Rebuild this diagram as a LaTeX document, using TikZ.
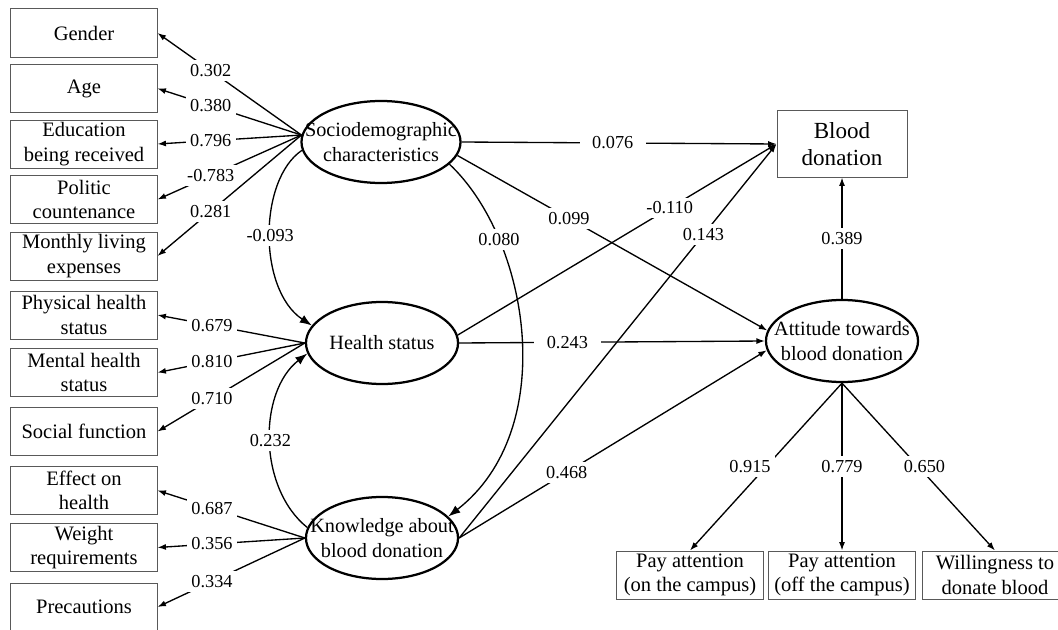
\documentclass[tikz,border=0pt]{standalone}
\usepackage{fontspec}
\setmainfont{Liberation Serif}
\usetikzlibrary{arrows.meta, calc, positioning, shapes.geometric}
\tikzset{
  obs/.style    = {draw=black!65, line width=0.7pt, minimum width=3.65cm, minimum height=1.2cm,
                   inner sep=0pt, align=center, font=\fontsize{14.6}{17.4}\selectfont},
  latent/.style = {ellipse, draw, line width=1.6pt, minimum width=3.8cm, minimum height=2.05cm,
                   inner xsep=-14pt, inner ysep=0pt, align=center, font=\fontsize{14.4}{17.4}\selectfont},
  load/.style   = {-{Latex[length=2.1mm, width=1.5mm]}, line width=0.95pt},
  covar/.style  = {-{Latex[length=3mm, width=2.2mm]}, line width=0.95pt},
  lbl/.style    = {fill=white, inner xsep=3pt, inner ysep=3pt, font=\fontsize{13}{14}\selectfont},
}

\begin{document}
\begin{tikzpicture}[x=0.025cm, y=-0.025cm]
  \useasboundingbox (0,0) rectangle (1058,630);
  \clip (0,0) rectangle (1058,630);

  \node[obs] (gender)  at (84,33)    {Gender};
  \node[obs] (age)     at (84,88.5)  {Age};
  \node[obs] (edu)     at (84,144)   {Education\\being received};
  \node[obs] (politic) at (84,199.5) {Politic\\countenance};
  \node[obs] (expense) at (84,256)   {Monthly living\\expenses};
  \node[obs] (phys)    at (84,315)   {Physical health\\status};
  \node[obs] (mental)  at (84,372.5) {Mental health\\status};
  \node[obs] (social)  at (84,431.5) {Social function};
  \node[obs] (effect)  at (84,490.5) {Effect on\\health};
  \node[obs] (weight)  at (84,547.5) {Weight\\requirements};
  \node[obs] (precau)  at (84,607)   {Precautions};

  \node[latent] (socio)  at (381,142) {Sociodemographic\\characteristics};
  \node[latent] (health) at (382,343) {Health status};
  \node[latent] (know)   at (382,538) {Knowledge about\\blood donation};
  \node[latent] (attit)  at (842,341) {Attitude towards\\blood donation};

  \node[obs, minimum width=3.25cm, minimum height=1.65cm, font=\fontsize{16.4}{19}\selectfont]
    (blood) at (842,144) {Blood\\donation};
  \node[obs] (oncamp)  at (690,575) {Pay attention\\(on the campus)};
  \node[obs] (offcamp) at (842,575) {Pay attention\\(off the campus)};
  \node[obs] (willing) at (995,575) {Willingness to\\donate blood};

  % loadings
  \draw[load] (socio.175) -- node[lbl, pos=0.63] {0.302} (gender.east);
  \draw[load] (socio.175) -- node[lbl, pos=0.63] {0.380} (age.east);
  \draw[load] (socio.175) -- node[lbl, pos=0.63] {0.796} (edu.east);
  \draw[load] (socio.175) -- node[lbl, pos=0.63] {-0.783} (politic.east);
  \draw[load] (socio.175) -- node[lbl, pos=0.63] {0.281} (expense.east);
  \draw[load] (health.west) -- node[lbl, pos=0.63] {0.679} (phys.east);
  \draw[load] (health.west) -- node[lbl, pos=0.63] {0.810} (mental.east);
  \draw[load] (health.west) -- node[lbl, pos=0.63] {0.710} (social.east);
  \draw[load] (know.west) -- node[lbl, pos=0.63] {0.687} (effect.east);
  \draw[load] (know.west) -- node[lbl, pos=0.63] {0.356} (weight.east);
  \draw[load] (know.west) -- node[lbl, pos=0.63] {0.334} (precau.east);
  \draw[load] (attit.south) -- node[lbl, pos=0.5, xshift=-0.4cm] {0.915} (oncamp.north);
  \draw[load] (attit.south) -- node[lbl, pos=0.5] {0.779} (offcamp.north);
  \draw[load] (attit.south) -- node[lbl, pos=0.5, xshift=0.15cm] {0.650} (willing.north);

  % paths
  \draw[load] (socio.east) -- node[lbl, pos=0.48, inner xsep=9pt] {0.076} (blood.west);
  \draw[load] (socio.-10) -- node[lbl, pos=0.36] {0.099} (attit.172);
  \draw[load] (health.6) -- node[lbl, pos=0.665] {-0.110} (blood.west);
  \draw[load] (health.east) -- node[lbl, pos=0.354, inner xsep=9pt] {0.243} (attit.west);
  \draw[load] (know.east) -- node[lbl, pos=0.77] {0.143} (blood.west);
  \draw[load] (know.east) -- node[lbl, pos=0.35] {0.468} (attit.187);
  \draw[load] (attit.north) -- node[lbl, pos=0.5] {0.389} (blood.south);

  \draw[covar] (socio.186) .. controls (258,180) and (258,290) .. node[lbl, pos=0.5] {-0.093} (health.166);
  \draw[covar] (socio.-18) .. controls (530,240) and (560,430) .. node[lbl, pos=0.25] {0.080} (know.18);
  \draw[covar, {Latex[length=3mm, width=2.2mm]}-] (health.188) .. controls (258,392) and (258,488) .. node[lbl, pos=0.5] {0.232} (know.172);
\end{tikzpicture}
\end{document}
